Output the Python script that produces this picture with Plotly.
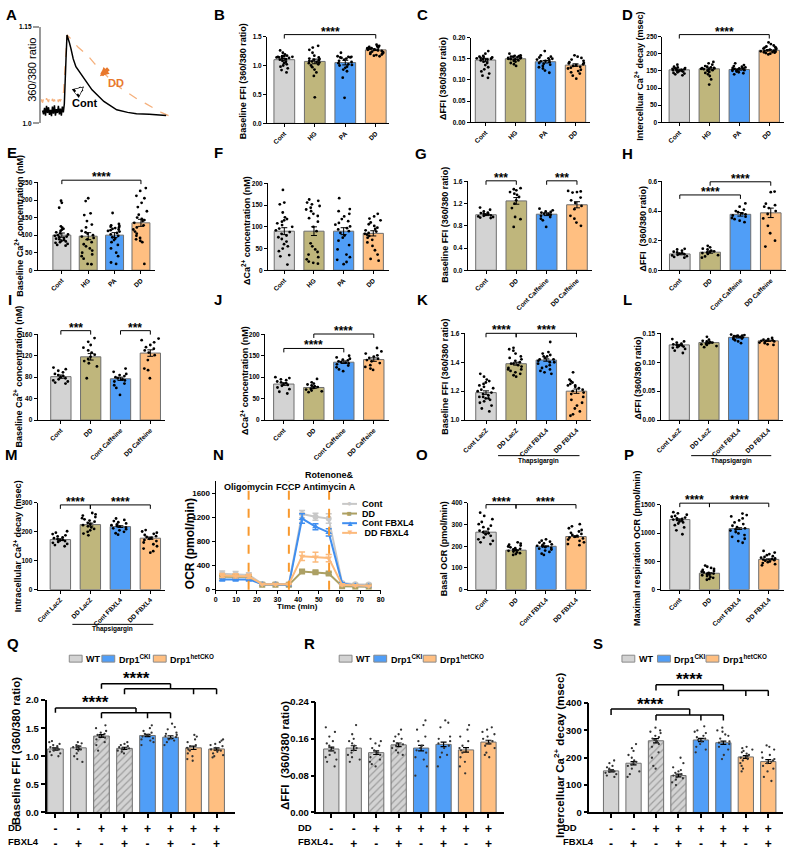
import plotly.graph_objects as go

W, H = 797, 851
FONT = "Liberation Sans, Arial, Helvetica, sans-serif"

GRAY = "#D3D3D3"
OLIVE = "#BFB67C"
BLUE = "#509EF7"
ORANGE = "#FFBF81"
EDGE = "#6E6E6E"

# ---------------- data ----------------
# A: representative Ca2+ transients (360/380 ratio)
a_cont_t = [2, 3, 4, 5, 6, 7, 8, 9, 10, 11, 12, 13, 14, 15, 16, 17, 18, 19, 20, 21, 22, 23, 24,
            24.7, 25.7, 26.7, 27.3, 29, 30.7, 33, 35.7, 40, 44, 52, 64, 77, 88, 97, 110, 127]
a_cont_v = [1.020, 1.014, 1.024, 1.012, 1.027, 1.016, 1.025, 1.013, 1.021, 1.011, 1.026, 1.015,
            1.028, 1.012, 1.022, 1.016, 1.027, 1.014, 1.023, 1.012, 1.026, 1.017, 1.030,
            1.050, 1.100, 1.137, 1.133, 1.126, 1.116, 1.100, 1.088, 1.078, 1.070, 1.052, 1.034,
            1.021, 1.017, 1.015, 1.014, 1.012]
a_dd_t = [0, 1, 2, 3, 4, 5, 6, 7, 8, 9, 10, 11, 12, 13, 14, 15, 16, 17, 18, 19, 20, 21, 22,
          23.3, 24.7, 25.7, 26.7, 30.7, 38, 47.3, 55, 64, 72, 80.7, 89, 97.3, 106, 114, 122, 130.7]
a_dd_v = [1.034, 1.037, 1.032, 1.038, 1.035, 1.031, 1.039, 1.036, 1.033, 1.040, 1.035, 1.032,
          1.038, 1.034, 1.037, 1.031, 1.036, 1.039, 1.033, 1.037, 1.035, 1.038, 1.036,
          1.050, 1.086, 1.111, 1.137, 1.131, 1.118, 1.106, 1.092, 1.078, 1.066, 1.055, 1.046,
          1.038, 1.031, 1.024, 1.017, 1.011]

cats_diet = ["Cont", "HG", "PA", "DD"]
cats_caf = ["Cont", "DD", "Cont Caffeine", "DD Caffeine"]
cats_lacz = ["Cont LacZ", "DD LacZ", "Cont FBXL4", "DD FBXL4"]
cats_fbxl4 = ["Cont", "DD", "Cont FBXL4", "DD FBXL4"]

# B: baseline FFI
b_mean = [1.10, 1.07, 1.05, 1.27]
b_sem = [0.02, 0.04, 0.04, 0.012]
b_pts = [
    [1.26, 1.22, 1.19, 1.17, 1.16, 1.16, 1.15, 1.15, 1.15, 1.14, 1.14, 1.13, 1.12, 1.11, 1.10, 1.08,
     1.06, 1.04, 1.02, 1.00, 0.98, 0.95, 0.92, 0.88],
    [1.34, 1.31, 1.27, 1.22, 1.17, 1.14, 1.12, 1.11, 1.10, 1.09, 1.08, 1.07, 1.06, 1.05, 1.04, 1.02,
     1.00, 0.97, 0.93, 0.88, 0.82, 0.45],
    [1.22, 1.16, 1.15, 1.15, 1.14, 1.14, 1.13, 1.12, 1.10, 1.08, 1.06, 1.04, 1.02, 1.01, 1.00, 0.98,
     0.96, 0.93, 0.90, 0.79, 0.44],
    [1.36, 1.34, 1.33, 1.32, 1.31, 1.30, 1.30, 1.29, 1.29, 1.28, 1.28, 1.27, 1.27, 1.26, 1.25, 1.24,
     1.23, 1.22, 1.21, 1.20, 1.19, 1.18, 1.17, 1.16],
]
# C: delta FFI
c_mean = [0.147, 0.150, 0.143, 0.135]
c_sem = [0.004, 0.002, 0.003, 0.003]
c_pts = [
    [0.168, 0.162, 0.157, 0.155, 0.154, 0.153, 0.152, 0.151, 0.150, 0.149, 0.148, 0.146, 0.143, 0.140,
     0.135, 0.130, 0.125, 0.120, 0.115, 0.110, 0.105],
    [0.162, 0.158, 0.157, 0.156, 0.155, 0.155, 0.154, 0.153, 0.152, 0.151, 0.150, 0.149, 0.148, 0.146,
     0.145, 0.143, 0.140, 0.137, 0.133],
    [0.168, 0.158, 0.155, 0.153, 0.151, 0.150, 0.148, 0.147, 0.145, 0.144, 0.142, 0.140, 0.138, 0.136,
     0.133, 0.130, 0.127, 0.122, 0.117],
    [0.158, 0.155, 0.152, 0.148, 0.145, 0.142, 0.140, 0.139, 0.137, 0.135, 0.133, 0.131, 0.129, 0.127,
     0.124, 0.121, 0.118, 0.115, 0.110, 0.103],
]
# D: Ca2+ decay
d_mean = [153, 156, 154, 210]
d_sem = [2, 3, 2, 2]
d_pts = [
    [168, 162, 160, 158, 157, 156, 155, 154, 153, 152, 151, 150, 149, 148, 146, 144, 142, 140, 137],
    [176, 172, 168, 164, 162, 160, 159, 158, 157, 156, 155, 154, 152, 150, 147, 144, 140, 135, 125, 110],
    [172, 167, 164, 162, 160, 159, 158, 157, 156, 155, 154, 153, 152, 151, 150, 148, 146, 143, 140],
    [233, 228, 224, 221, 219, 218, 216, 215, 213, 212, 210, 209, 208, 207, 206, 205, 204, 203, 202, 200, 198],
]
# E: baseline Ca2+
e_mean = [100, 97, 100, 135]
e_sem = [6, 10, 7, 10]
e_pts = [
    [198, 192, 178, 125, 121, 118, 115, 112, 108, 105, 102, 100, 98, 96, 94, 92, 90, 88, 86, 84, 82, 80,
     78, 75, 72, 70],
    [205, 197, 162, 157, 140, 130, 122, 112, 108, 104, 100, 96, 92, 88, 80, 74, 68, 62, 56, 50, 45, 40,
     33, 18, 17],
    [163, 132, 128, 126, 124, 122, 120, 118, 116, 114, 112, 110, 106, 102, 98, 94, 90, 86, 80, 72, 62, 50,
     40, 22, 18],
    [234, 226, 212, 205, 192, 180, 168, 158, 150, 146, 143, 140, 135, 128, 122, 116, 110, 104, 98, 92, 88,
     84, 80, 18],
]
# F: delta Ca2+
f_mean = [90, 90, 90, 85]
f_sem = [8, 10, 8, 6]
f_pts = [
    [185, 156, 152, 133, 122, 118, 115, 112, 108, 104, 100, 96, 92, 88, 84, 80, 76, 72, 66, 60, 55, 50,
     44, 35, 32, 13],
    [163, 160, 156, 152, 148, 144, 140, 136, 130, 125, 120, 112, 100, 90, 62, 55, 48, 42, 36, 30, 25, 20,
     17, 15],
    [166, 141, 136, 130, 124, 118, 113, 109, 105, 101, 97, 94, 90, 86, 80, 75, 68, 58, 48, 36, 30, 24, 19, 14],
    [130, 124, 119, 115, 110, 106, 102, 98, 95, 92, 89, 86, 84, 82, 79, 75, 70, 64, 56, 46, 36, 26, 22],
]
# G: baseline FFI, caffeine
g_mean = [1.00, 1.25, 1.01, 1.18]
g_sem = [0.015, 0.06, 0.025, 0.055]
g_pts = [
    [1.13, 1.09, 1.06, 1.04, 1.03, 1.02, 1.01, 1.00, 0.99, 0.98, 0.97, 0.96, 0.95, 0.94],
    [1.48, 1.46, 1.44, 1.41, 1.38, 1.36, 1.32, 1.26, 1.20, 1.12, 0.96, 0.92, 0.78],
    [1.11, 1.08, 1.06, 1.05, 1.04, 1.02, 1.01, 1.00, 0.98, 0.96, 0.93, 0.90, 0.78],
    [1.43, 1.42, 1.41, 1.40, 1.31, 1.26, 1.21, 1.16, 1.10, 0.98, 0.93, 0.86, 0.80],
]
# H: delta FFI, caffeine
h_mean = [0.110, 0.122, 0.378, 0.388]
h_sem = [0.006, 0.007, 0.012, 0.032]
h_pts = [
    [0.145, 0.140, 0.132, 0.125, 0.120, 0.115, 0.112, 0.108, 0.104, 0.100, 0.095, 0.090, 0.085],
    [0.165, 0.155, 0.146, 0.140, 0.133, 0.128, 0.124, 0.120, 0.116, 0.110, 0.102, 0.093, 0.085],
    [0.452, 0.430, 0.410, 0.400, 0.392, 0.385, 0.378, 0.370, 0.362, 0.353, 0.345, 0.335, 0.325],
    [0.532, 0.528, 0.450, 0.440, 0.430, 0.420, 0.400, 0.380, 0.350, 0.300, 0.250, 0.200, 0.160],
]
# I: baseline Ca2+, caffeine
i_mean = [81, 118, 77, 125]
i_sem = [3, 6, 3, 6]
i_pts = [
    [98, 95, 92, 89, 86, 84, 82, 80, 78, 76, 74, 72, 70, 68],
    [153, 146, 140, 135, 130, 126, 122, 118, 114, 110, 106, 100, 78],
    [96, 90, 86, 84, 82, 80, 78, 76, 74, 72, 68, 65, 60, 47],
    [152, 149, 145, 140, 136, 133, 130, 126, 121, 112, 96, 93, 78],
]
# J: delta Ca2+, caffeine
j_mean = [84, 76, 135, 141]
j_sem = [3, 2, 3, 4]
j_pts = [
    [100, 98, 95, 93, 90, 88, 86, 84, 82, 80, 76, 72, 66, 62],
    [96, 88, 85, 83, 81, 79, 77, 75, 73, 71, 69, 67, 65],
    [150, 146, 143, 141, 139, 137, 135, 134, 132, 130, 127, 123, 118, 114],
    [168, 160, 155, 151, 148, 145, 143, 140, 137, 133, 128, 124, 120, 117],
]
# K: baseline FFI, thapsigargin
k_mean = [1.19, 1.39, 1.415, 1.20]
k_sem = [0.012, 0.010, 0.008, 0.015]
k_pts = [
    [1.32, 1.30, 1.28, 1.27, 1.26, 1.25, 1.24, 1.23, 1.22, 1.21, 1.20, 1.19, 1.18, 1.17, 1.16, 1.16,
     1.15, 1.15, 1.14, 1.13, 1.12, 1.10, 1.08, 1.06],
    [1.50, 1.49, 1.48, 1.46, 1.44, 1.43, 1.42, 1.41, 1.40, 1.39, 1.39, 1.38, 1.37, 1.36, 1.35, 1.35,
     1.34, 1.33, 1.32, 1.31, 1.30],
    [1.54, 1.47, 1.46, 1.45, 1.44, 1.44, 1.43, 1.42, 1.42, 1.41, 1.40, 1.40, 1.39, 1.38, 1.37, 1.36,
     1.35, 1.34, 1.33, 1.32],
    [1.33, 1.28, 1.27, 1.26, 1.25, 1.24, 1.24, 1.23, 1.22, 1.21, 1.20, 1.19, 1.18, 1.16, 1.14, 1.12,
     1.10, 1.08, 1.06, 1.04, 1.03],
]
# L: delta FFI, thapsigargin
l_mean = [0.130, 0.134, 0.143, 0.137]
l_sem = [0.001, 0.001, 0.001, 0.001]
l_pts = [
    [0.140, 0.136, 0.134, 0.132, 0.131, 0.130, 0.129, 0.128, 0.127, 0.126, 0.125, 0.123, 0.120, 0.116],
    [0.144, 0.139, 0.137, 0.136, 0.135, 0.134, 0.133, 0.132, 0.131, 0.130, 0.128, 0.126],
    [0.148, 0.147, 0.146, 0.146, 0.145, 0.145, 0.144, 0.143, 0.142, 0.141, 0.140, 0.138, 0.136, 0.133],
    [0.142, 0.140, 0.139, 0.138, 0.137, 0.137, 0.136, 0.135, 0.134, 0.133, 0.131, 0.130],
]
# M: Ca2+ decay, thapsigargin
m_mean = [173, 225, 218, 178]
m_sem = [3, 5, 3, 4]
m_pts = [
    [202, 197, 192, 188, 184, 181, 178, 175, 172, 170, 168, 165, 162, 158, 154, 150],
    [265, 260, 256, 251, 247, 243, 239, 235, 231, 227, 223, 219, 215, 210, 205, 200, 194, 188],
    [246, 241, 237, 233, 229, 226, 223, 220, 218, 215, 212, 209, 205, 200, 195, 190],
    [206, 201, 197, 193, 189, 185, 182, 179, 176, 172, 168, 163, 157, 150, 142, 133, 128],
]
# N: Seahorse OCR trace
n_time = [3.2, 9.7, 16.1, 22.6, 29.0, 35.5, 41.9, 48.4, 54.8, 61.3, 67.7, 74.2]
n_cont = [265, 255, 245, 95, 95, 90, 1255, 1210, 1180, 112, 90, 85]
n_cont_err = [45, 45, 35, 15, 15, 15, 60, 60, 80, 20, 15, 15]
n_dd = [215, 215, 210, 80, 80, 80, 300, 290, 268, 58, 50, 50]
n_dd_err = [25, 25, 20, 10, 10, 10, 20, 20, 20, 8, 8, 8]
n_contf = [170, 170, 170, 90, 90, 80, 1180, 1045, 950, 100, 70, 60]
n_contf_err = [25, 25, 25, 10, 10, 10, 80, 50, 60, 15, 10, 10]
n_ddf = [235, 230, 220, 90, 90, 90, 555, 540, 525, 80, 70, 60]
n_ddf_err = [35, 35, 35, 10, 10, 10, 70, 80, 60, 15, 10, 10]
n_injections = [16, 35.5, 55]
n_inject_names = ["Oligomycin", "FCCP", "Rotenone&<br>Antimycin A"]
# O: basal OCR
o_mean = [265, 182, 200, 245]
o_sem = [5, 2, 2, 3]
o_pts = [
    [355, 340, 325, 312, 302, 295, 288, 280, 272, 265, 260, 255, 248, 240, 232, 225, 218, 210],
    [218, 212, 207, 203, 199, 195, 191, 188, 185, 182, 179, 176, 172, 168, 164, 160],
    [232, 226, 221, 217, 213, 209, 205, 202, 199, 196, 193, 189, 185, 180, 174, 166, 160],
    [302, 292, 283, 275, 268, 262, 257, 252, 248, 244, 240, 236, 231, 225, 218, 210, 205],
]
# P: maximal respiration
p_mean = [1240, 290, 1080, 535]
p_sem = [12, 10, 15, 10]
p_pts = [
    [1370, 1350, 1325, 1305, 1290, 1275, 1262, 1250, 1240, 1230, 1218, 1205, 1190, 1170, 1140, 1100, 1050, 980],
    [425, 405, 385, 365, 348, 332, 318, 305, 295, 285, 275, 265, 255, 240, 225, 210, 190, 175],
    [1345, 1320, 1295, 1260, 1225, 1190, 1160, 1130, 1105, 1085, 1065, 1045, 1020, 995, 965, 935, 900, 860, 830],
    [685, 655, 630, 610, 592, 578, 565, 552, 542, 532, 522, 512, 500, 486, 470, 450, 430],
]

# Q-S: genotype x treatment panels
cats_geno = ["WT", "WT FBXL4", "WT DD", "WT DD FBXL4", "CKI DD", "CKI DD FBXL4", "het DD", "het DD FBXL4"]
dd_signs = ["-", "-", "+", "+", "+", "+", "+", "+"]
fbxl4_signs = ["-", "+", "-", "+", "-", "+", "-", "+"]
geno_names = ["WT", "Drp1<sup>CKI</sup>", "Drp1<sup>hetCKO</sup>"]
geno_index = [[0, 1, 2, 3], [4, 5], [6, 7]]

q_mean = [1.13, 1.15, 1.36, 1.14, 1.37, 1.34, 1.15, 1.13]
q_sem = [0.02, 0.03, 0.025, 0.02, 0.02, 0.025, 0.03, 0.02]
q_pts = [
    [1.27, 1.25, 1.22, 1.20, 1.18, 1.16, 1.15, 1.14, 1.13, 1.12, 1.10, 1.08, 1.05, 1.02, 1.00],
    [1.25, 1.23, 1.20, 1.18, 1.16, 1.15, 1.14, 1.12, 1.10, 1.05, 1.00, 0.95, 0.90],
    [1.55, 1.50, 1.45, 1.42, 1.40, 1.38, 1.36, 1.35, 1.33, 1.30, 1.25, 1.20, 1.10],
    [1.25, 1.22, 1.20, 1.18, 1.16, 1.15, 1.14, 1.12, 1.10, 1.08, 1.05],
    [1.55, 1.50, 1.45, 1.42, 1.40, 1.38, 1.37, 1.35, 1.32, 1.30, 1.28, 1.25, 1.20],
    [1.58, 1.52, 1.48, 1.42, 1.40, 1.38, 1.36, 1.34, 1.32, 1.30, 1.28, 1.25, 1.20],
    [1.38, 1.35, 1.30, 1.25, 1.20, 1.18, 1.15, 1.12, 1.10, 1.05, 1.00, 0.95, 0.92],
    [1.30, 1.28, 1.25, 1.22, 1.20, 1.18, 1.15, 1.12, 1.10, 1.08, 1.05, 1.02, 1.00, 0.98],
]
r_mean = [0.138, 0.140, 0.130, 0.147, 0.140, 0.148, 0.136, 0.153]
r_sem = [0.004, 0.005, 0.004, 0.004, 0.006, 0.005, 0.005, 0.004]
r_pts = [
    [0.185, 0.175, 0.165, 0.155, 0.150, 0.145, 0.140, 0.135, 0.130, 0.125, 0.120, 0.115, 0.110, 0.100],
    [0.190, 0.170, 0.160, 0.155, 0.150, 0.145, 0.140, 0.135, 0.130, 0.125, 0.120, 0.115, 0.110],
    [0.160, 0.155, 0.150, 0.145, 0.140, 0.135, 0.130, 0.125, 0.120, 0.115, 0.110, 0.105, 0.100],
    [0.180, 0.170, 0.165, 0.160, 0.155, 0.150, 0.148, 0.145, 0.140, 0.135, 0.130, 0.125],
    [0.200, 0.190, 0.180, 0.165, 0.155, 0.145, 0.140, 0.135, 0.130, 0.120, 0.115, 0.100, 0.080],
    [0.200, 0.195, 0.185, 0.165, 0.160, 0.155, 0.150, 0.145, 0.140, 0.130, 0.125, 0.120, 0.100],
    [0.190, 0.180, 0.165, 0.155, 0.145, 0.140, 0.135, 0.130, 0.120, 0.110, 0.100, 0.085],
    [0.185, 0.180, 0.175, 0.170, 0.165, 0.160, 0.155, 0.150, 0.145, 0.140, 0.130, 0.125, 0.120],
]
s_mean = [152, 180, 262, 135, 265, 255, 203, 186]
s_sem = [4, 6, 8, 5, 6, 6, 5, 7]
s_pts = [
    [190, 180, 170, 165, 160, 155, 152, 150, 148, 145, 140, 135, 130],
    [250, 235, 225, 210, 200, 190, 185, 180, 175, 170, 160, 150, 140, 130],
    [310, 300, 295, 290, 280, 275, 270, 265, 260, 250, 240, 220, 200, 170, 160],
    [200, 180, 165, 155, 150, 145, 140, 135, 130, 125, 120, 110, 100],
    [315, 300, 295, 290, 280, 275, 270, 265, 260, 250, 240, 230, 220],
    [310, 300, 295, 285, 280, 270, 260, 255, 250, 240, 230, 210, 195],
    [240, 235, 230, 225, 220, 215, 210, 205, 200, 195, 190, 180, 170, 160, 150],
    [245, 240, 230, 220, 210, 200, 195, 190, 185, 180, 170, 160, 150, 130, 115],
]

# ---------------- helpers ----------------
fig = go.Figure()
shapes = []
annos = []
n_axes = [0]


def fnt(size, color="black", weight="bold"):
    return dict(family=FONT, size=size, color=color, weight=weight)


def add_axes(L, R, top, bottom):
    n_axes[0] += 1
    sfx = "" if n_axes[0] == 1 else str(n_axes[0])
    fig.update_layout({
        "xaxis" + sfx: dict(domain=[L / W, R / W], anchor="y" + sfx),
        "yaxis" + sfx: dict(domain=[1 - bottom / H, 1 - top / H], anchor="x" + sfx),
    })
    return "x" + sfx, "y" + sfx


def key(ref):
    return ref[0] + "axis" + ref[1:]


def text(s, px, py, size, angle=0, xanchor="center", color="black", weight="bold"):
    annos.append(dict(text=s, x=px / W, y=1 - py / H, xref="paper", yref="paper", showarrow=False,
                      textangle=angle, xanchor=xanchor, yanchor="middle", font=fnt(size, color, weight)))


def axis_style(size, lw=1, tl=3):
    return dict(showline=True, linecolor="black", linewidth=lw, ticks="outside", ticklen=tl, tickwidth=lw,
                tickcolor="black", showgrid=False, zeroline=False, tickfont=fnt(size))


def bracket(p, left, right, top, label, gpx=4, tpx=5, lw=1, size=12, yshift=3):
    xa, ya, (y0, y1), hpx = p
    d = (top - y0) / (y1 - y0)
    g, t = gpx / hpx, tpx / hpx
    segs = []

    def anchor(grp):
        if len(grp) == 1:
            segs.append((grp[0], d, grp[0], d - g))
            return grp[0]
        m = (min(grp) + max(grp)) / 2
        segs.append((m, d, m, d - g))
        segs.append((min(grp), d - g, max(grp), d - g))
        for k in grp:
            segs.append((k, d - g, k, d - g - t))
        return m

    a, b = anchor(left), anchor(right)
    segs.append((a, d, b, d))
    for x0, y0_, x1, y1_ in segs:
        shapes.append(dict(type="line", xref=xa, yref=ya + " domain", x0=x0, x1=x1, y0=y0_, y1=y1_,
                           line=dict(color="black", width=lw)))
    annos.append(dict(text=label, x=(a + b) / 2, y=d, xref=xa, yref=ya + " domain", showarrow=False,
                      yanchor="middle", yshift=yshift, font=fnt(size)))


def thapsigargin(p, line_d, text_d):
    xa, ya = p[0], p[1]
    shapes.append(dict(type="line", xref=xa, yref=ya + " domain", x0=0.4, x1=3.1, y0=line_d, y1=line_d,
                       line=dict(color="black", width=1)))
    annos.append(dict(text="Thapsigargin", x=1.75, y=text_d, xref=xa, yref=ya + " domain", showarrow=False,
                      yanchor="middle", font=fnt(6.5)))


def bar_panel(box, cats, means, sems, pts, colors, yr, tickvals, fmt, dot=2.8):
    L, R, top, bottom, c0, c1 = box
    n = len(cats)
    s = (c1 - c0) / (n - 1)
    xr = [-(c0 - L) / s, (n - 1) + (R - c1) / s]
    xa, ya = add_axes(L, R, top, bottom)
    fig.add_trace(go.Bar(x=cats, y=means, width=0.68, xaxis=xa, yaxis=ya, showlegend=False,
                         marker=dict(color=colors, line=dict(color=EDGE, width=1)),
                         error_y=dict(type="data", array=sems, color="black", thickness=1, width=3)))
    fig.add_trace(go.Box(x=[c for c, p in zip(cats, pts) for _ in p], y=[v for p in pts for v in p],
                         xaxis=xa, yaxis=ya, showlegend=False, boxpoints="all", jitter=1, pointpos=0,
                         width=0.6, fillcolor="rgba(0,0,0,0)", line=dict(width=0, color="rgba(0,0,0,0)"),
                         marker=dict(color="black", size=dot)))
    xs = axis_style(6.5)
    xs.update(range=xr, type="category", categoryorder="array", categoryarray=cats, tickangle=-45)
    ys = axis_style(6.5)
    ys.update(range=yr, tickvals=tickvals, tickformat=fmt)
    fig.update_layout({key(xa): xs, key(ya): ys})
    return xa, ya, yr, bottom - top


# ---------------- A ----------------
xa, ya = add_axes(36, 167, 21, 119)
fig.add_trace(go.Scatter(x=a_dd_t, y=a_dd_v, mode="lines", xaxis=xa, yaxis=ya, showlegend=False,
                         line=dict(color="#F5B07C", width=1.3, dash="dash")))
fig.add_trace(go.Scatter(x=a_cont_t, y=a_cont_v, mode="lines", xaxis=xa, yaxis=ya, showlegend=False,
                         line=dict(color="black", width=1.5)))
ys = axis_style(6.5, lw=1.5, tl=6)
ys.update(range=[1.0, 1.15], tickvals=[1.0, 1.15], ticktext=["1.0", "1.15"], linecolor="#9A9A9A",
          tickcolor="#9A9A9A")
fig.update_layout({key(xa): dict(range=[0, 131], visible=False), key(ya): ys})
annos.append(dict(x=60, y=1.073, xref=xa, yref=ya, ax=10, ay=-9, showarrow=True, arrowhead=2,
                  arrowsize=0.45, arrowwidth=4, arrowcolor="#E8782C", text=""))
annos.append(dict(x=76, y=1.063, xref=xa, yref=ya, text="DD", showarrow=False, font=fnt(11, "#E8782C")))
annos.append(dict(x=44, y=1.057, xref=xa, yref=ya, ax=-10, ay=8, showarrow=True, arrowhead=2,
                  arrowsize=0.45, arrowwidth=5, arrowcolor="black", text=""))
annos.append(dict(x=44, y=1.057, xref=xa, yref=ya, ax=-10, ay=8, showarrow=True, arrowhead=2,
                  arrowsize=0.5, arrowwidth=3, arrowcolor="white", standoff=1.5, text=""))
annos.append(dict(x=44, y=1.031, xref=xa, yref=ya, text="Cont", showarrow=False, font=fnt(11)))
text("360/380 ratio", 27, 65, 11, angle=-90, weight="normal")

# ---------------- B-P ----------------
diet_colors = [GRAY, OLIVE, BLUE, ORANGE]

pB = bar_panel((265, 388, 31, 119, 282.5, 375), cats_diet, b_mean, b_sem, b_pts, diet_colors,
               [0, 1.5], [0, 0.5, 1.0, 1.5], ".1f")
bracket(pB, [0], [3], 1.534, "****")
text("Baseline FFI (360/380 ratio)", 241, 76, 9, angle=-90)

pC = bar_panel((471, 592, 32, 118, 486, 577), cats_diet, c_mean, c_sem, c_pts, diet_colors,
               [0, 0.2], [0, 0.05, 0.1, 0.15, 0.2], ".2f")
text("ΔFFI (360/380 ratio)", 443, 73, 9, angle=-90)

pD = bar_panel((665, 788, 31, 118, 682, 773), cats_diet, d_mean, d_sem, d_pts, diet_colors,
               [0, 250], [0, 50, 100, 150, 200, 250], "d")
bracket(pD, [0], [3], 255.7, "****")
text("Intercelluar Ca<sup>2+</sup> decay (msec)", 641, 71, 9, angle=-90)

pE = bar_panel((33, 152, 179, 268, 57.5, 137.5), cats_diet, e_mean, e_sem, e_pts, diet_colors,
               [0, 250], [0, 50, 100, 150, 200, 250], "d")
bracket(pE, [0], [3], 256.5, "****")
text("Baseline Ca<sup>2+</sup> concentration (nM)", 14, 223, 9, angle=-90)

pF = bar_panel((266, 388, 180, 268, 282.5, 372.5), cats_diet, f_mean, f_sem, f_pts, diet_colors,
               [0, 200], [0, 50, 100, 150, 200], "d")
text("ΔCa<sup>2+</sup> concentration (nM)", 244, 228, 9, angle=-90)

pG = bar_panel((468, 594, 178, 268, 486.5, 578.5), cats_caf, g_mean, g_sem, g_pts, diet_colors,
               [0, 1.6], [0, 0.4, 0.8, 1.2, 1.6], ".1f")
bracket(pG, [0], [1], 1.612, "***")
bracket(pG, [2], [3], 1.612, "***")
text("Baseline FFI (360/380 ratio)", 445, 222, 9, angle=-90)

pH = bar_panel((665, 790, 178, 268, 682.5, 774.5), cats_caf, h_mean, h_sem, h_pts, diet_colors,
               [0, 0.6], [0, 0.2, 0.4, 0.6], ".1f")
bracket(pH, [0], [2], 0.509, "****")
bracket(pH, [1], [3], 0.598, "****")
text("ΔFFI  (360/380 ratio)", 645, 226, 9, angle=-90)

pI = bar_panel((33, 162, 333, 420, 56.5, 147), cats_caf, i_mean, i_sem, i_pts, diet_colors,
               [0, 160], [0, 40, 80, 120, 160], "d")
bracket(pI, [0], [1], 166.8, "***")
bracket(pI, [2], [3], 166.8, "***")
text("Baseline Ca<sup>2+</sup> concentration (nM)", 13, 376, 9, angle=-90)

pJ = bar_panel((263, 388, 333, 420, 282, 373), cats_caf, j_mean, j_sem, j_pts, diet_colors,
               [0, 200], [0, 50, 100, 150, 200], "d")
bracket(pJ, [0], [2], 167, "****")
bracket(pJ, [1], [3], 200.7, "****")
text("ΔCa<sup>2+</sup> concentration (nM)", 242, 380, 9, angle=-90)

pK = bar_panel((465, 593, 332, 420, 486.5, 578), cats_lacz, k_mean, k_sem, k_pts, diet_colors,
               [1.0, 1.6], [1.0, 1.2, 1.4, 1.6], ".1f")
bracket(pK, [0], [1], 1.60, "****")
bracket(pK, [1], [3], 1.60, "****")
thapsigargin(pK, -0.41, -0.47)
text("Baseline FFI (360/380 ratio)", 445, 376, 9, angle=-90)

pL = bar_panel((663, 787, 332, 420, 682, 772), cats_lacz, l_mean, l_sem, l_pts, diet_colors,
               [0, 0.15], [0, 0.05, 0.1, 0.15], ".2f")
thapsigargin(pL, -0.41, -0.47)
text("ΔFFI (360/380 ratio)", 640, 377, 9, angle=-90)

pM = bar_panel((33, 162, 504, 592, 56, 147), cats_lacz, m_mean, m_sem, m_pts, diet_colors,
               [0, 300], [0, 100, 200, 300], "d")
bracket(pM, [0], [1], 293, "****")
bracket(pM, [1], [3], 293, "****")
thapsigargin(pM, -0.40, -0.455)
text("Intracellular Ca<sup>2+</sup> decay (msec)", 13, 548, 9, angle=-90)

# N: OCR trace
xa, ya = add_axes(213, 380, 482, 592)
n_series = [("Cont", n_cont, n_cont_err, "#C8C8C8", "circle", "●"),
            ("DD", n_dd, n_dd_err, "#ACA064", "square", "■"),
            ("Cont FBXL4", n_contf, n_contf_err, "#3F8EF0", "triangle-up", "▲"),
            (" DD FBXL4", n_ddf, n_ddf_err, "#FCBA7C", "triangle-down", "▼")]
for name, vals, errs, col, sym, _ in n_series:
    fig.add_trace(go.Scatter(x=n_time, y=vals, mode="lines+markers", xaxis=xa, yaxis=ya, showlegend=False,
                             line=dict(color=col, width=2), marker=dict(symbol=sym, size=6, color=col),
                             error_y=dict(type="data", array=errs, color=col, thickness=1.5, width=3)))
xs = axis_style(7)
xs.update(range=[0, 80], tickvals=list(range(0, 81, 10)))
ys = axis_style(8)
ys.update(range=[0, 1800], tickvals=[0, 400, 800, 1200, 1600])
fig.update_layout({key(xa): xs, key(ya): ys})
for t, lab in zip(n_injections, n_inject_names):
    shapes.append(dict(type="line", xref=xa, yref=ya + " domain", x0=t, x1=t, y0=0, y1=1,
                       line=dict(color="#F8992E", width=2, dash="dash")))
    annos.append(dict(text=lab, x=t, y=1, xref=xa, yref=ya + " domain", showarrow=False,
                      yanchor="bottom", yshift=-13, font=fnt(9)))
for k, (name, _, _, col, _, glyph) in enumerate(n_series):
    yy = 505 + 9.8 * k
    shapes.append(dict(type="line", xref="paper", yref="paper", x0=341 / W, x1=356 / W,
                       y0=1 - yy / H, y1=1 - yy / H, line=dict(color=col, width=2)))
    text(glyph, 348.5, yy, 8, color=col, weight="normal")
    text(name, 359, yy, 9, xanchor="left")
text("OCR (pmol/min)", 187, 545, 12, angle=-90)
text("Time (min)", 296, 609, 8)

pO = bar_panel((468, 593, 504, 592, 486.5, 577.5), cats_fbxl4, o_mean, o_sem, o_pts, diet_colors,
               [0, 400], [0, 100, 200, 300, 400], "d")
bracket(pO, [0], [1], 392, "****")
bracket(pO, [1], [3], 392, "****")
text("Basal OCR (pmol/min)", 444, 550, 9, angle=-90)

pP = bar_panel((663, 788, 506, 592, 682.5, 772.5), cats_fbxl4, p_mean, p_sem, p_pts, diet_colors,
               [0, 1500], [0, 500, 1000, 1500], "d")
bracket(pP, [0], [1], 1530, "****")
bracket(pP, [1], [3], 1530, "****")
text("Maximal respiration OCR (pmol/min)", 639, 550, 9, angle=-90)


# ---------------- Q-S ----------------
def geno_panel(box, means, sems, pts, yr, tickvals, fmt):
    L, R, top, bottom, c0, c1 = box
    n = len(cats_geno)
    s = (c1 - c0) / (n - 1)
    xr = [-(c0 - L) / s, (n - 1) + (R - c1) / s]
    xa, ya = add_axes(L, R, top, bottom)
    for idx, col in zip(geno_index, [GRAY, BLUE, ORANGE]):
        pat = ["/" if cats_geno[k].startswith("WT DD") else "" for k in idx]
        fig.add_trace(go.Bar(x=[cats_geno[k] for k in idx], y=[means[k] for k in idx], width=0.68,
                             xaxis=xa, yaxis=ya, showlegend=False,
                             marker=dict(color=col, line=dict(color=EDGE, width=1),
                                         pattern=dict(shape=pat, fgcolor="#6A6A6A", size=5, solidity=0.25)),
                             error_y=dict(type="data", array=[sems[k] for k in idx], color="black",
                                          thickness=1.2, width=3)))
    fig.add_trace(go.Box(x=[c for c, p in zip(cats_geno, pts) for _ in p], y=[v for p in pts for v in p],
                         xaxis=xa, yaxis=ya, showlegend=False, boxpoints="all", jitter=1, pointpos=0,
                         width=0.6, fillcolor="rgba(0,0,0,0)", line=dict(width=0, color="rgba(0,0,0,0)"),
                         marker=dict(color="#333333", size=2.3)))
    xs = axis_style(12, lw=1.5, tl=4)
    xs.update(range=xr, type="category", categoryorder="array", categoryarray=cats_geno,
              tickvals=cats_geno, ticktext=[f"{a}<br>{b}" for a, b in zip(dd_signs, fbxl4_signs)])
    ys = axis_style(9.5, lw=1.5, tl=4)
    ys.update(range=yr, tickvals=tickvals, tickformat=fmt)
    fig.update_layout({key(xa): xs, key(ya): ys})
    return xa, ya, yr, bottom - top


def geno_legend(x0, gap2):
    offs = [0, gap2, 85]
    for name, col, o in zip(geno_names, [GRAY, BLUE, ORANGE], offs):
        shapes.append(dict(type="rect", xref="paper", yref="paper", x0=(x0 + o) / W, x1=(x0 + o + 13) / W,
                           y0=1 - 665.5 / H, y1=1 - 658.5 / H, fillcolor=col, line=dict(color="#8A8A8A", width=1)))
        text(name, x0 + o + 15, 662, 9, xanchor="left")


def row_labels(px):
    text("DD", px, 833, 9.5, xanchor="left")
    text("FBXL4", px, 847, 9.5, xanchor="left")


pQ = geno_panel((42, 233, 704, 818, 51, 214), q_mean, q_sem, q_pts, [0, 2.0], [0, 0.5, 1.0, 1.5, 2.0], ".1f")
bracket(pQ, [0], [2, 4, 5], 1.86, "****", gpx=5, tpx=5.5, lw=1.5, size=17, yshift=5)
bracket(pQ, [2], [3, 6, 7], 2.29, "****", gpx=5, tpx=5.5, lw=1.5, size=17, yshift=5)
geno_legend(65, 33)
row_labels(1)
text("Baseline FFI (360/380 ratio)", 11, 756, 11.5, angle=-90)

pR = geno_panel((315, 505, 706, 818, 330, 489), r_mean, r_sem, r_pts, [0, 0.24], [0, 0.08, 0.16, 0.24], ".2f")
geno_legend(338, 35)
row_labels(294)
text("ΔFFI  (360/380 ratio)", 283, 760, 11.5, angle=-90)

pS = geno_panel((591, 787, 707, 818, 613, 772), s_mean, s_sem, s_pts, [0, 400], [0, 100, 200, 300, 400], "d")
bracket(pS, [0], [2, 4, 5], 378, "****", gpx=6, tpx=5.5, lw=1.5, size=17, yshift=5)
bracket(pS, [2], [3, 6, 7], 467, "****", gpx=6, tpx=5.5, lw=1.5, size=17, yshift=5)
geno_legend(624, 36)
row_labels(562)
text("Intercelluar Ca<sup>2+</sup> decay (msec)", 561, 760, 11.5, angle=-90)

# ---------------- panel letters ----------------
letters = [("A", 7, 9), ("B", 217, 9), ("C", 422, 9), ("D", 630, 9),
           ("E", 7, 149), ("F", 216, 149), ("G", 421, 150), ("H", 630, 150),
           ("I", 5, 298), ("J", 215, 298), ("K", 422, 298), ("L", 630, 298),
           ("M", 7, 455), ("N", 216, 455), ("O", 422, 455), ("P", 631, 455),
           ("Q", 8, 647), ("R", 308, 647), ("S", 600, 647)]
for s, x, y in letters:
    text(s, x, y, 15)

fig.update_layout(width=W, height=H, margin=dict(l=0, r=0, t=0, b=0), plot_bgcolor="white",
                  paper_bgcolor="white", barmode="overlay", boxmode="overlay", showlegend=False,
                  font=dict(family=FONT, color="black"), shapes=shapes, annotations=annos)

# drop the browser's default 8px body margin so the figure sits at the page origin
fig.write_html("out.html", config={"displayModeBar": False},
               post_script="document.body.style.margin = '0px';")
